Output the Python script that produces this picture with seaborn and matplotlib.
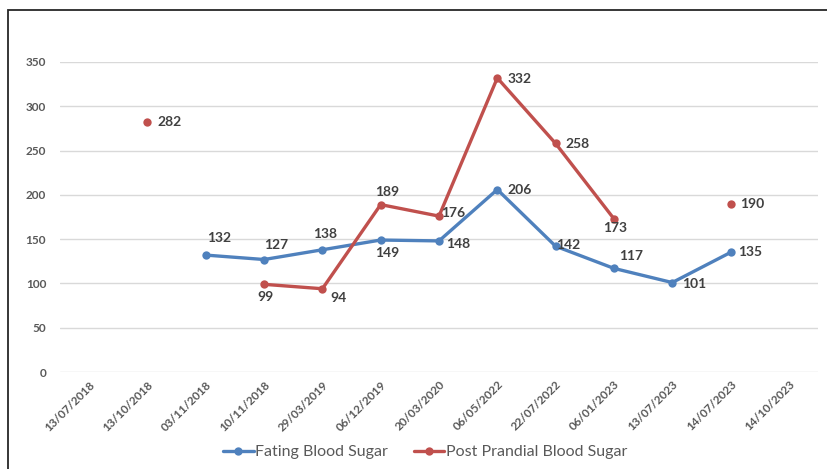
import numpy as np
import pandas as pd
import matplotlib
matplotlib.use("Agg")
import matplotlib.pyplot as plt
from matplotlib.lines import Line2D
from matplotlib.patches import Rectangle
import seaborn as sns

# chart data
dates = ['13/07/2018', '13/10/2018', '03/11/2018', '10/11/2018', '29/03/2019',
         '06/12/2019', '20/03/2020', '06/05/2022', '22/07/2022', '06/01/2023',
         '13/07/2023', '14/07/2023', '14/10/2023']
fasting = [np.nan, np.nan, 132, 127, 138, 149, 148, 206, 142, 117, 101, 135, np.nan]
post_prandial = [np.nan, 282, np.nan, 99, 94, 189, 176, 332, 258, 173, np.nan, 190, np.nan]
series_names = ['Fating Blood Sugar', 'Post Prandial Blood Sugar']
colors = ['#4F81BD', '#C0504D']

# label offsets in pixels (dx, dy) for each data label
fasting_off = [None, None, (13, 17), (12, 15), (3, 16), (7, -13), (19, -3), (22, 0),
               (13, 1), (17, 12), (22, -1), (20, 0), None]
post_off = [None, (22, 0), None, (1, -13), (16, -9), (6, 13), (14, 3), (22, -1),
            (22, -1), (1, -9), None, (22, 0), None]

sns.set_theme(style="white")
plt.rcParams['font.family'] = ['Lato', 'DejaVu Sans']

# long-form table, with a segment id so gaps are not bridged
rows = []
for name, vals in zip(series_names, [fasting, post_prandial]):
    seg = 0
    prev_nan = True
    for i, v in enumerate(vals):
        if np.isnan(v):
            prev_nan = True
            continue
        if prev_nan:
            seg += 1
        prev_nan = False
        rows.append({'pos': i, 'value': v, 'series': name, 'segment': f'{name}-{seg}'})
df = pd.DataFrame(rows)

fig = plt.figure(figsize=(8.27, 4.69), dpi=100)
ax = fig.add_axes([60 / 827, 1 - 372 / 469, 758 / 827, 310 / 469])

sns.lineplot(data=df, x='pos', y='value', hue='series', units='segment',
             estimator=None, palette=dict(zip(series_names, colors)),
             marker='o', markersize=6, markeredgewidth=0, linewidth=2.4,
             legend=False, ax=ax)

ax.set_xlim(-0.5, len(dates) - 0.5)
ax.set_ylim(0, 350)
ax.set_yticks(range(0, 351, 50))
ax.set_xticks(range(len(dates)))
ax.set_xticklabels(dates, rotation=45, ha='right', va='top', rotation_mode='anchor')
ax.tick_params(axis='x', length=0, pad=5, labelsize=8.5, labelcolor='#595959')
ax.tick_params(axis='y', length=0, pad=10, labelsize=8.5, labelcolor='#595959')
for lab in ax.get_xticklabels() + ax.get_yticklabels():
    lab.set_fontweight('bold')
ax.set_xlabel('')
ax.set_ylabel('')
ax.yaxis.grid(True, color='#D9D9D9', linewidth=1)
ax.xaxis.grid(False)
for s in ax.spines.values():
    s.set_visible(False)

# data labels
for vals, offs in [(fasting, fasting_off), (post_prandial, post_off)]:
    for i, (v, o) in enumerate(zip(vals, offs)):
        if np.isnan(v):
            continue
        ax.annotate(f'{int(v)}', (i, v), xytext=o, textcoords='offset pixels',
                    ha='center', va='center', fontsize=10, color='#404040',
                    fontweight='bold', annotation_clip=False)

handles = [Line2D([], [], color=c, marker='o', markersize=6, markeredgewidth=0,
                  linewidth=2.4) for c in colors]
fig.legend(handles, series_names, loc='center', bbox_to_anchor=(0.514, 0.036),
           ncol=2, frameon=False, fontsize=11.5, labelcolor='#595959',
           handlelength=1.9, handletextpad=0.1, columnspacing=1.6)

# chart frame (cropped at the right and bottom)
fig.patches.append(Rectangle((8 / 827, -0.1), 1.2, 1 - 10 / 469 + 0.1,
                             transform=fig.transFigure, fill=False,
                             edgecolor='#262626', linewidth=1.3))

fig.savefig('out.png', dpi=100)
